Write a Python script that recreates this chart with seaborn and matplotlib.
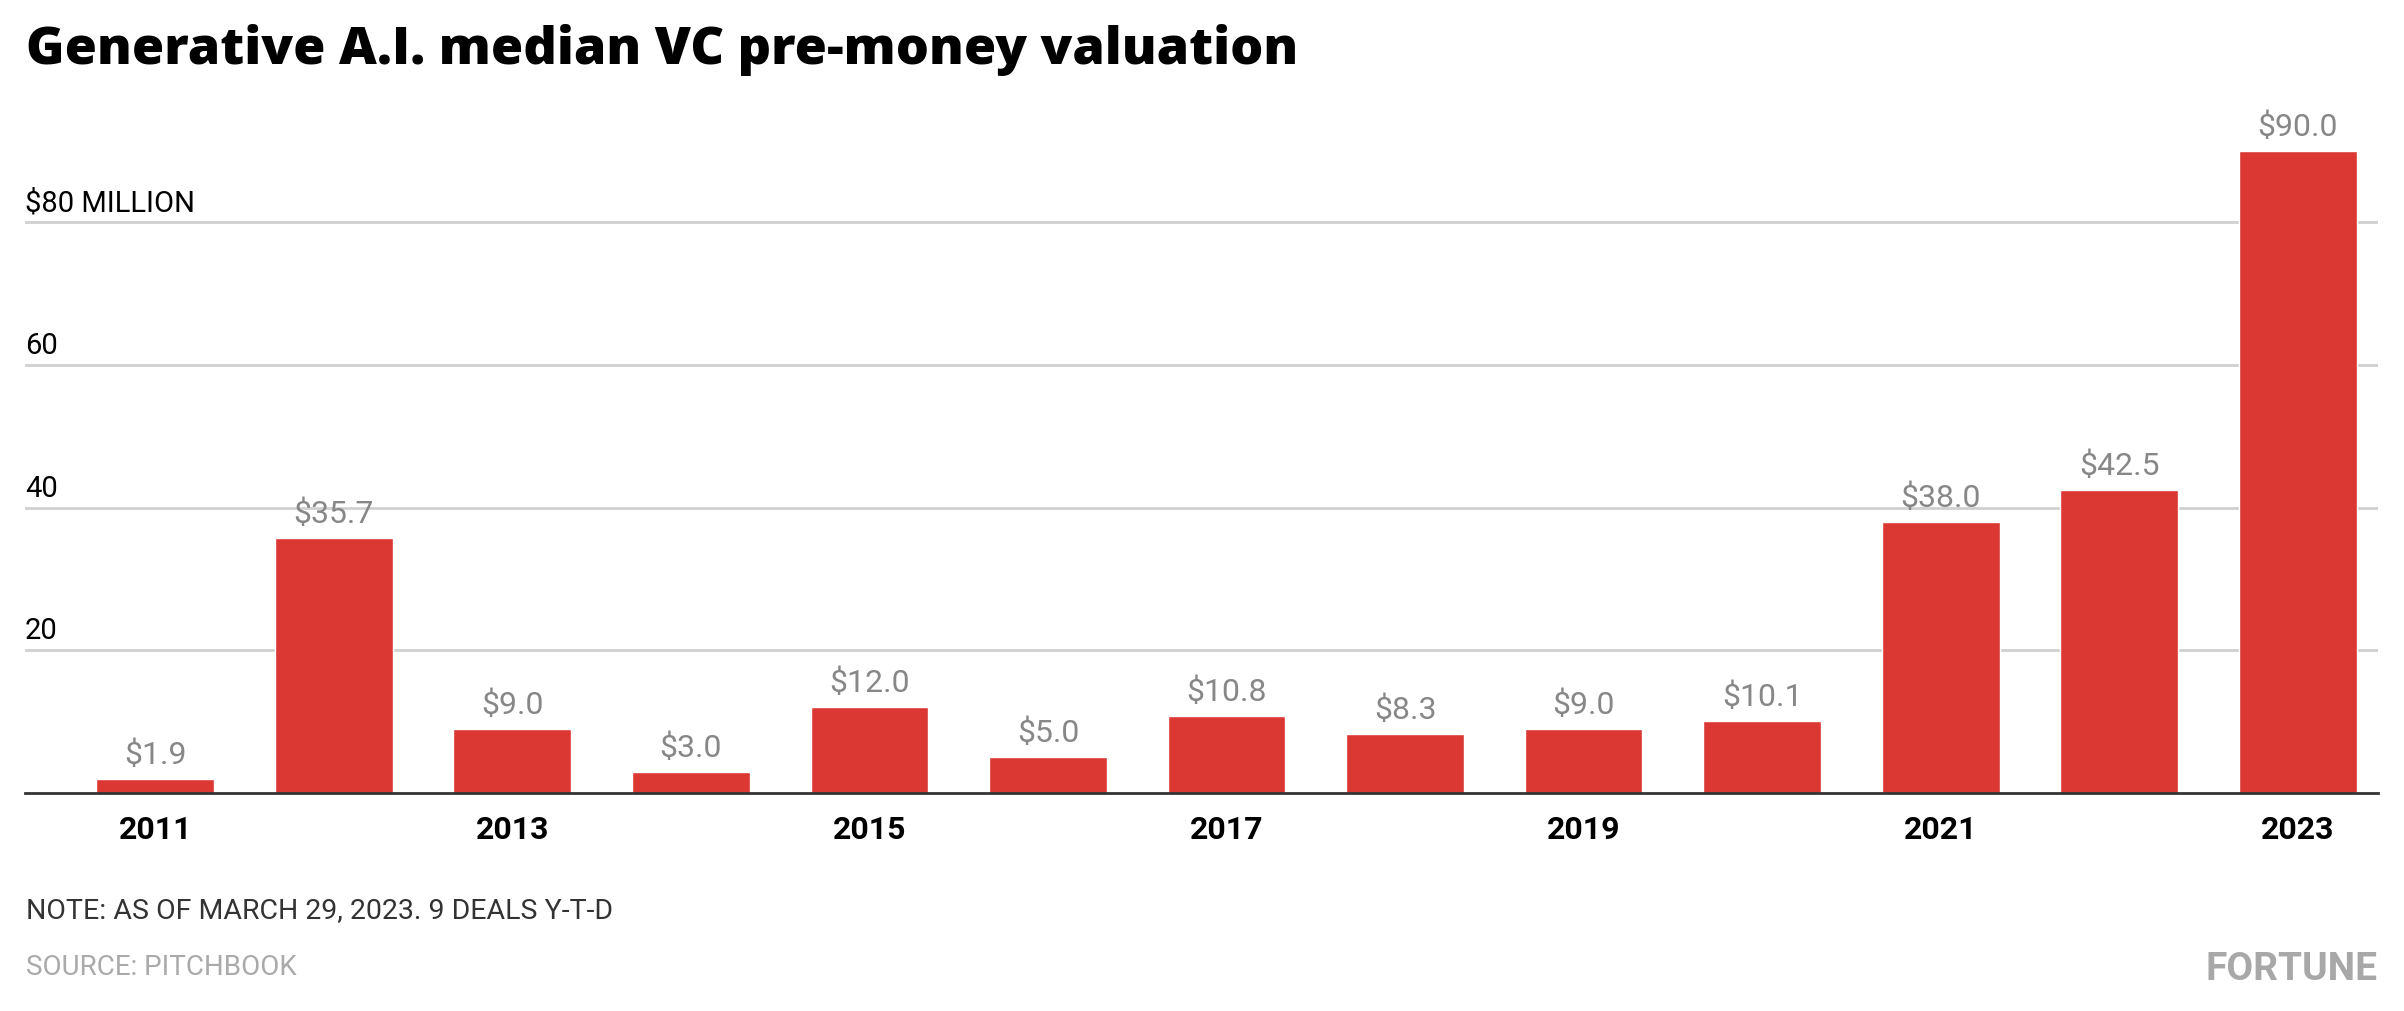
import matplotlib
matplotlib.use("Agg")
import matplotlib.pyplot as plt
import matplotlib.transforms as mtransforms
import seaborn as sns

# ── Data ───────────────────────────────────────────────────────────────────────
years = ["2011", "2012", "2013", "2014", "2015", "2016", "2017",
         "2018", "2019", "2020", "2021", "2022", "2023"]
valuations = [1.9, 35.7, 9.0, 3.0, 12.0, 5.0, 10.8, 8.3, 9.0, 10.1, 38.0, 42.5, 90.0]
y_ticks = [20, 40, 60, 80]
y_tick_labels = ["20", "40", "60", "$80 MILLION"]
x_tick_labels = [y if int(y) % 2 == 1 else "" for y in years]

TITLE = "Generative A.I. median VC pre-money valuation"
NOTE = "NOTE: AS OF MARCH 29, 2023. 9 DEALS Y-T-D"
SOURCE = "SOURCE: PITCHBOOK"

# ── Style ──────────────────────────────────────────────────────────────────────
BAR_COLOR = "#db3834"
GRID_COLOR = "#d0d0d0"
LABEL_GRAY = "#878787"

sns.set_theme(style="white")
plt.rcParams["font.family"] = ["Roboto", "DejaVu Sans"]

W, H = 2404, 1012
fig = plt.figure(figsize=(W / 100, H / 100), dpi=100)
fig.patch.set_facecolor("white")

ax_left, ax_right = 25 / W, 2378 / W
ax_bottom, ax_top = 1 - 794 / H, 1 - 100 / H
ax = fig.add_axes([ax_left, ax_bottom, ax_right - ax_left, ax_top - ax_bottom])

sns.barplot(x=years, y=valuations, color=BAR_COLOR, saturation=1, width=0.66, ax=ax)

ax.set_xlim(-0.73, 12.45)
ax.set_ylim(0, 97.3)

# gridlines only
ax.set_yticks(y_ticks)
ax.set_yticklabels([])
ax.yaxis.grid(True, color=GRID_COLOR, linewidth=2)
ax.xaxis.grid(False)
ax.set_axisbelow(True)
ax.tick_params(axis="both", length=0)

for side in ["top", "right", "left"]:
    ax.spines[side].set_visible(False)
ax.spines["bottom"].set_color("#333333")
ax.spines["bottom"].set_linewidth(2)

ax.set_xticks(range(len(years)))
ax.set_xticklabels(x_tick_labels, fontweight="bold", fontsize=23, color="black")
ax.tick_params(axis="x", pad=15)
ax.set_xlabel("")
ax.set_ylabel("")

# y labels sit above the gridlines at the left edge
trans = mtransforms.blended_transform_factory(ax.transAxes, ax.transData)
offset = mtransforms.ScaledTranslation(0, 12 / 100, fig.dpi_scale_trans)
for val, lab in zip(y_ticks, y_tick_labels):
    ax.text(0, val, lab, transform=trans + offset, ha="left", va="baseline",
            fontsize=21, color="black")

# bar value labels
for i, v in enumerate(valuations):
    ax.annotate(f"${v:.1f}", (i, v), xytext=(0, 11.5), textcoords="offset points",
                ha="center", va="baseline", fontsize=23, color=LABEL_GRAY)

# ── Title and footer ──────────────────────────────────────────────────────────
fig.text(26 / W, 1 - 64 / H, TITLE, ha="left", va="baseline",
         fontsize=37.5, fontweight="heavy", color="black",
         family=["Open Sans", "DejaVu Sans"])
fig.text(26 / W, 1 - 918 / H, NOTE, ha="left", va="baseline",
         fontsize=20.5, color="#333333")
fig.text(26 / W, 1 - 975 / H, SOURCE, ha="left", va="baseline",
         fontsize=20, color="#aaaaaa")
fig.text(2378 / W, 1 - 980 / H, "FORTUNE", ha="right", va="baseline",
         fontsize=28, fontweight="bold", color="#a8a8a8")

fig.savefig("out.png", dpi=100)
